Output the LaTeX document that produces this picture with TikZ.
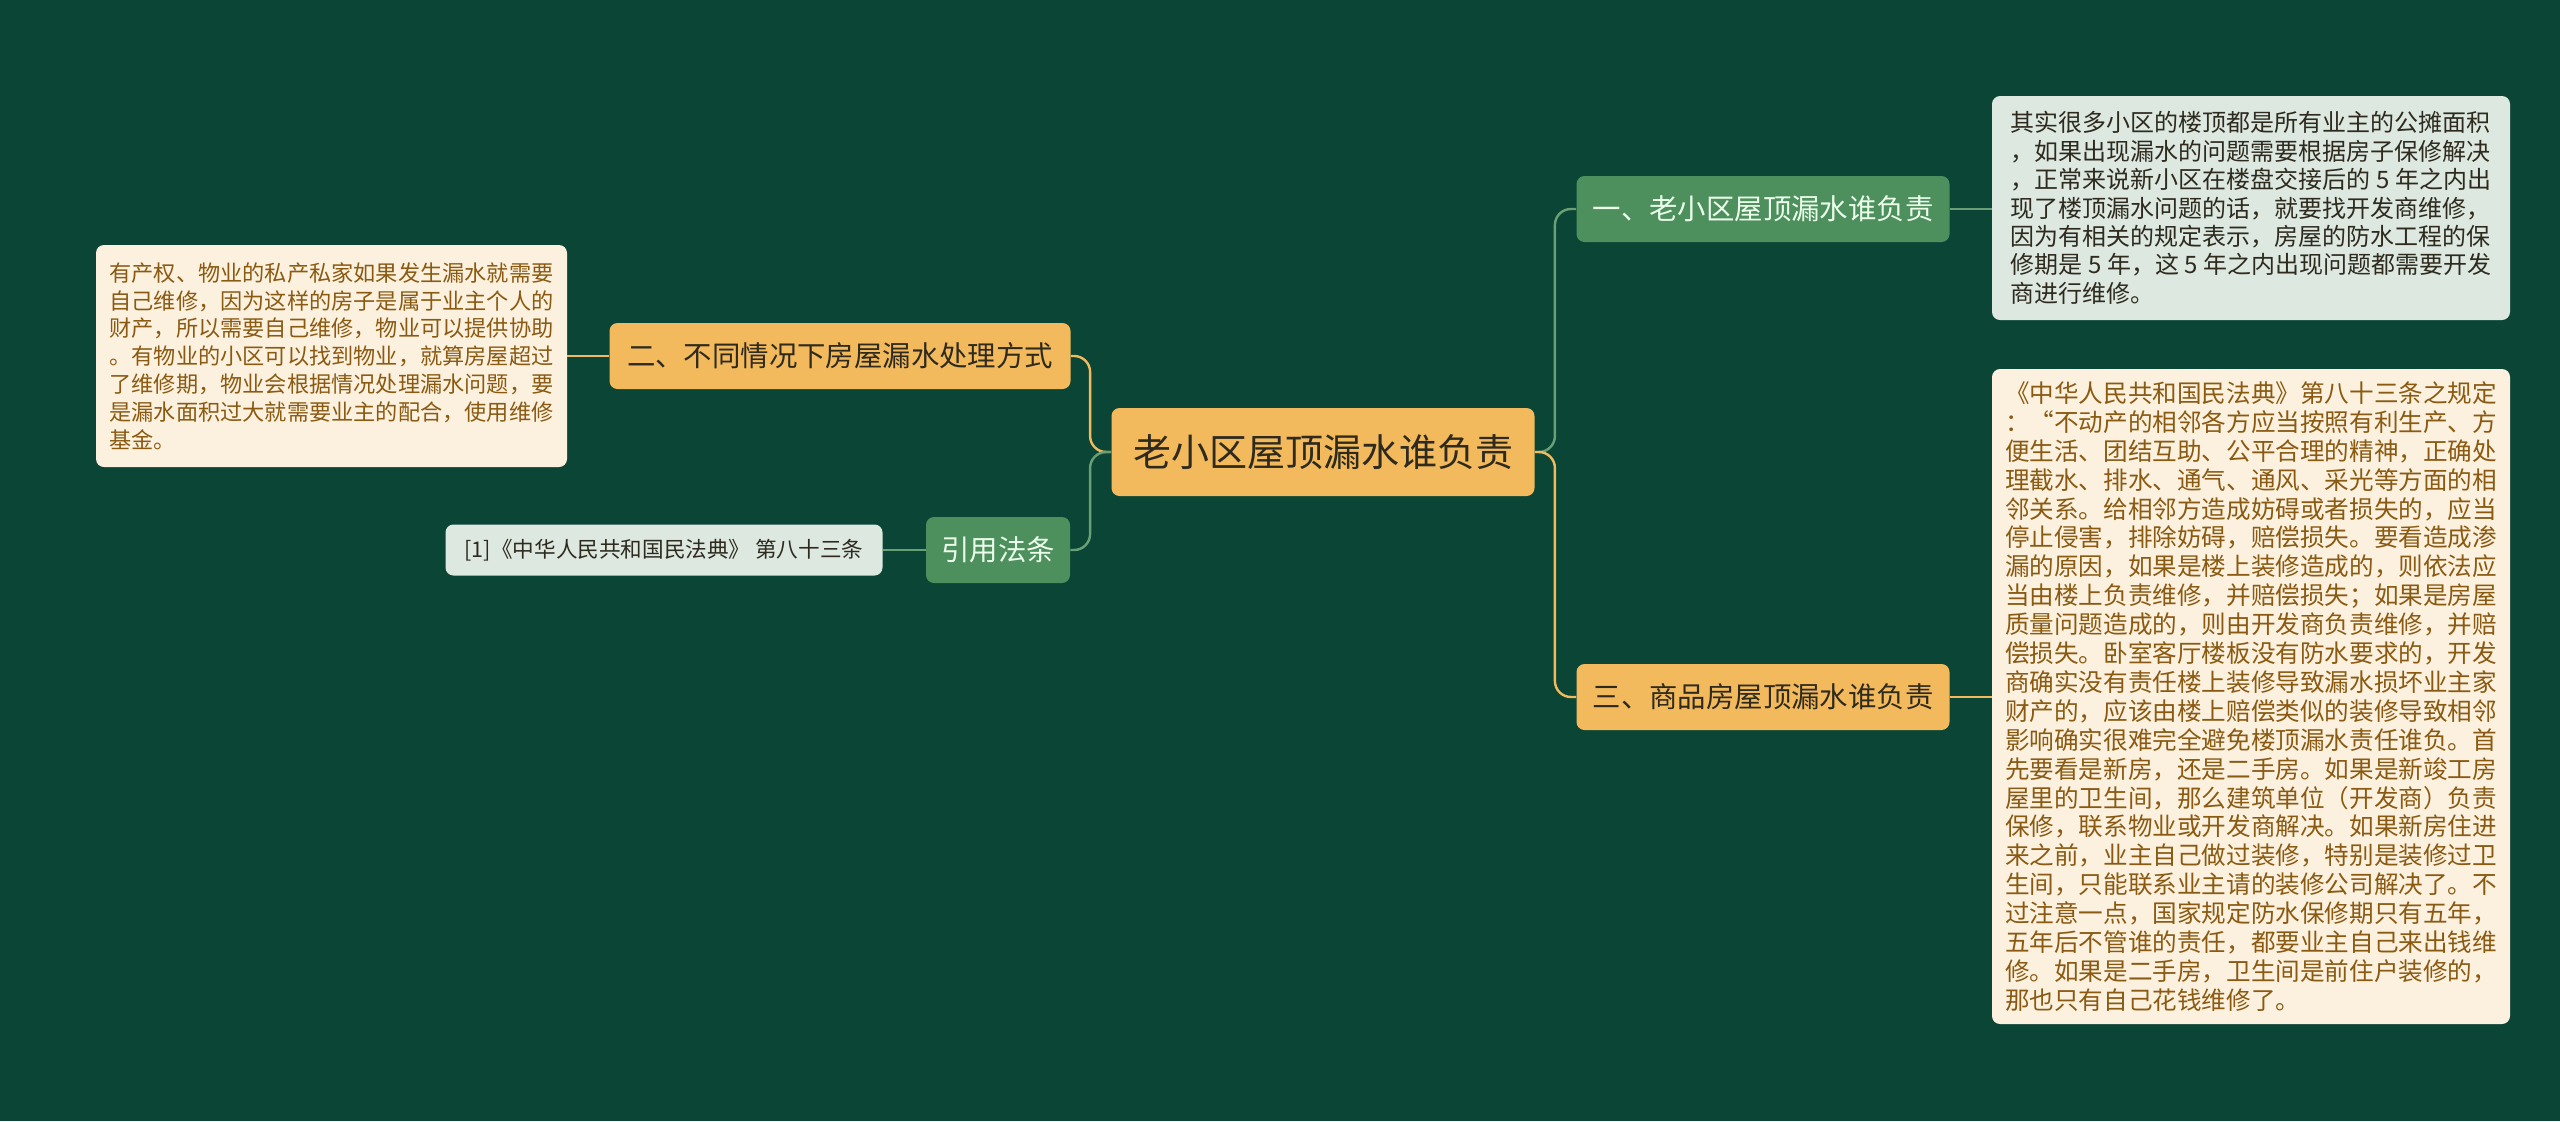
\documentclass[tikz,border=0pt]{standalone}
\usepackage{fontspec}
\setmainfont{Noto Sans CJK SC}
\definecolor{bg}{HTML}{0B4535}
\definecolor{org}{HTML}{F2BA5C}
\definecolor{grn}{HTML}{4E8F5E}
\definecolor{cream}{HTML}{FCF1DE}
\definecolor{mint}{HTML}{DCE8E0}
\definecolor{brown}{HTML}{8A5A12}
\definecolor{dark}{HTML}{2E2A1E}
\begin{document}
\begin{tikzpicture}[x=0.5pt,y=-0.5pt,
  box/.style={rounded corners=4pt,inner sep=0pt,align=center},
  rootbox/.style={box,fill=org,text=dark,font=\fontsize{19}{22}\selectfont},
  obox/.style={box,fill=org,text=dark,font=\fontsize{14.2}{17}\selectfont},
  gbox/.style={box,fill=grn,text=white!92!green,font=\fontsize{14.2}{17}\selectfont},
  leaf/.style={rounded corners=4pt,inner sep=0pt,align=left},
  ol/.style={draw=org,line width=1.2pt,rounded corners=8pt},
  gl/.style={draw=grn!85!white,line width=1.2pt,rounded corners=8pt}]
\fill[bg] (0,0) rectangle (2560,1121);
\useasboundingbox (0,0) rectangle (2560,1121);

\node[rootbox,minimum width=211.5pt,minimum height=44pt] (root) at (1323,452) {老小区屋顶漏水谁负责};
\node[gbox,minimum width=186.5pt,minimum height=33pt] (b1) at (1763,209) {一、老小区屋顶漏水谁负责};
\node[obox,minimum width=186.5pt,minimum height=33pt] (b3) at (1763,697) {三、商品房屋顶漏水谁负责};
\node[obox,minimum width=230.5pt,minimum height=33pt] (b2) at (840,356) {二、不同情况下房屋漏水处理方式};
\node[gbox,minimum width=72pt,minimum height=33pt] (b4) at (998,550) {引用法条};

\node[leaf,fill=mint,text=dark,minimum width=218.5pt,minimum height=25.5pt,align=center,font=\fontsize{10.8}{13}\selectfont] (l4) at (664,550) {[1]《中华人民共和国民法典》 第八十三条};

\node[leaf,fill=mint,text=dark,minimum width=259pt,minimum height=112pt,font=\fontsize{12}{14.2}\selectfont] (l1) at (2251,208) {其实很多小区的楼顶都是所有业主的公摊面积\\，如果出现漏水的问题需要根据房子保修解决\\，正常来说新小区在楼盘交接后的 5 年之内出\\现了楼顶漏水问题的话，就要找开发商维修，\\因为有相关的规定表示，房屋的防水工程的保\\修期是 5 年，这 5 年之内出现问题都需要开发\\商进行维修。};

\node[leaf,fill=cream,text=brown,minimum width=259pt,minimum height=327.5pt,font=\fontsize{12.3}{14.45}\selectfont] (l3) at (2251,696.5) {《中华人民共和国民法典》第八十三条之规定\\：“不动产的相邻各方应当按照有利生产、方\\便生活、团结互助、公平合理的精神，正确处\\理截水、排水、通气、通风、采光等方面的相\\邻关系。给相邻方造成妨碍或者损失的，应当\\停止侵害，排除妨碍，赔偿损失。要看造成渗\\漏的原因，如果是楼上装修造成的，则依法应\\当由楼上负责维修，并赔偿损失；如果是房屋\\质量问题造成的，则由开发商负责维修，并赔\\偿损失。卧室客厅楼板没有防水要求的，开发\\商确实没有责任楼上装修导致漏水损坏业主家\\财产的，应该由楼上赔偿类似的装修导致相邻\\影响确实很难完全避免楼顶漏水责任谁负。首\\先要看是新房，还是二手房。如果是新竣工房\\屋里的卫生间，那么建筑单位（开发商）负责\\保修，联系物业或开发商解决。如果新房住进\\来之前，业主自己做过装修，特别是装修过卫\\生间，只能联系业主请的装修公司解决了。不\\过注意一点，国家规定防水保修期只有五年，\\五年后不管谁的责任，都要业主自己来出钱维\\修。如果是二手房，卫生间是前住户装修的，\\那也只有自己花钱维修了。};

\node[leaf,fill=cream,text=brown,minimum width=235.5pt,minimum height=111pt,font=\fontsize{11.1}{13.9}\selectfont] (l2) at (331.5,356) {有产权、物业的私产私家如果发生漏水就需要\\自己维修，因为这样的房子是属于业主个人的\\财产，所以需要自己维修，物业可以提供协助\\。有物业的小区可以找到物业，就算房屋超过\\了维修期，物业会根据情况处理漏水问题，要\\是漏水面积过大就需要业主的配合，使用维修\\基金。};

\draw[gl] (root.east) -- ++(20,0) |- (b1.west);
\draw[ol] (root.east) -- ++(20,0) |- (b3.west);
\draw[ol] (root.west) -- ++(-21,0) |- (b2.east);
\draw[gl] (root.west) -- ++(-21,0) |- (b4.east);
\draw[gl] (b1.east) -- (l1.west|-b1.east);
\draw[ol] (b3.east) -- (l3.west|-b3.east);
\draw[ol] (b2.west) -- (l2.east|-b2.west);
\draw[gl] (b4.west) -- (l4.east);
\end{tikzpicture}
\end{document}
